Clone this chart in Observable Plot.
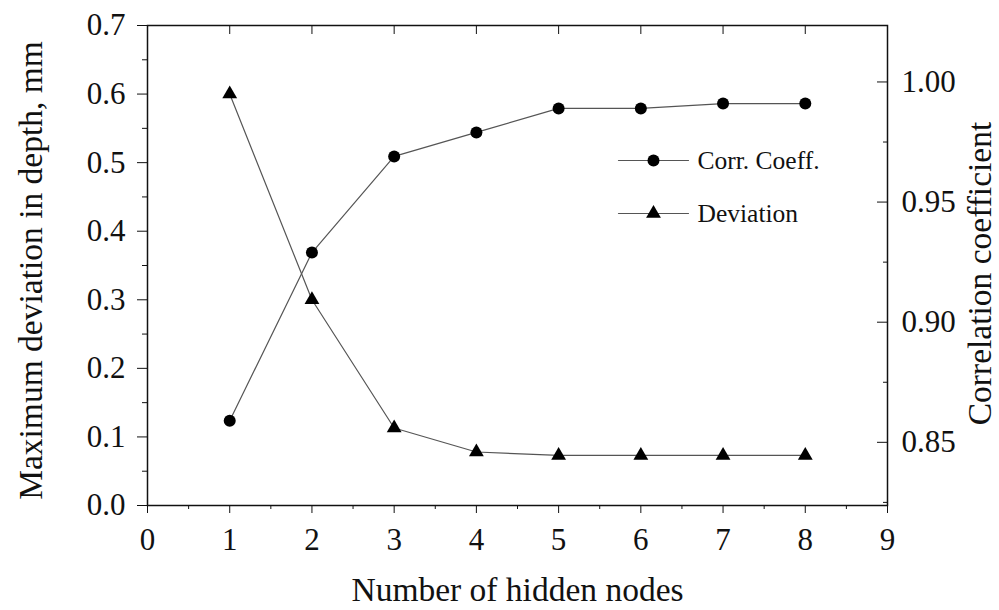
<!DOCTYPE html>
<html><head><meta charset="utf-8">
<script src="https://cdn.jsdelivr.net/npm/d3@7"></script>
<script src="https://cdn.jsdelivr.net/npm/@observablehq/plot@0.6"></script>
<style>body{margin:0;background:#fff}</style>
</head><body><div id="chart"></div>
<script>
// ---- data ----
const nodes = [1, 2, 3, 4, 5, 6, 7, 8];
const deviation = [0.600, 0.300, 0.113, 0.078, 0.073, 0.073, 0.073, 0.073];
const corrCoeff = [0.859, 0.929, 0.969, 0.979, 0.989, 0.989, 0.991, 0.991];
const xTicks = [0, 1, 2, 3, 4, 5, 6, 7, 8, 9];
const xMinorTicks = [0.5, 1.5, 2.5, 3.5, 4.5, 5.5, 6.5, 7.5, 8.5];
const leftTicks = [0.0, 0.1, 0.2, 0.3, 0.4, 0.5, 0.6, 0.7];
const leftMinorTicks = [0.05, 0.15, 0.25, 0.35, 0.45, 0.55, 0.65];
const rightTicks = [0.85, 0.90, 0.95, 1.00];
const rightMinorTicks = [0.825, 0.875, 0.925, 0.975];
const rightDomain = [0.8237, 1.0235];
const leftDomain = [0, 0.7];
const seriesNames = ["Corr. Coeff.", "Deviation"];
const xTitle = "Number of hidden nodes";
const yLeftTitle = "Maximum deviation in depth, mm";
const yRightTitle = "Correlation coefficient";

// ---- layout ----
const W = 999, H = 610;
const mL = 147, mR = 112, mT = 25, mB = 105;
const plotW = W - mL - mR, plotH = H - mT - mB;
const font = "'Liberation Serif', 'Times New Roman', serif";
const ink = "#111";
const lineInk = "#555";

const toLeft = v => (v - rightDomain[0]) / (rightDomain[1] - rightDomain[0]) * (leftDomain[1] - leftDomain[0]) + leftDomain[0];
const fromLeft = v => (v - leftDomain[0]) / (leftDomain[1] - leftDomain[0]) * (rightDomain[1] - rightDomain[0]) + rightDomain[0];

const rows = nodes.map((n, i) => ({n, dev: deviation[i], corr: toLeft(corrCoeff[i])}));

const lineShape = {draw(ctx, l) { ctx.moveTo(0, 0); ctx.lineTo(0, -l); }};

const chart = Plot.plot({
  width: W, height: H,
  marginLeft: mL, marginRight: mR, marginTop: mT, marginBottom: mB,
  style: {fontFamily: font, fontSize: "31px", color: ink, background: "#fff"},
  x: {domain: [0, 9]},
  y: {domain: leftDomain},
  marks: [
    // bottom axis
    Plot.axisX({ticks: xTicks, tickSize: 8, tickPadding: 14, tickFormat: d => String(d), label: null, fontSize: 31, stroke: ink}),
    Plot.axisX({ticks: xMinorTicks, tickSize: 4, tickFormat: () => "", label: null, stroke: ink}),
    // top inward ticks
    Plot.tickX(xTicks.slice(1, -1), {x: d => d, insetBottom: plotH - 9, stroke: ink}),
    // left axis
    Plot.axisY({ticks: leftTicks, tickSize: 10, tickPadding: 12, tickFormat: d => d.toFixed(1), label: null, fontSize: 31, stroke: ink}),
    Plot.axisY({ticks: leftMinorTicks, tickSize: 5, tickFormat: () => "", label: null, stroke: ink}),
    // right axis (correlation)
    Plot.axisY({anchor: "right", ticks: rightTicks.map(toLeft), tickSize: 0, tickPadding: 14, tickFormat: d => fromLeft(d).toFixed(2), label: null, fontSize: 31}),
    Plot.tickY(rightTicks.map(toLeft), {y: d => d, insetLeft: plotW - 10, stroke: ink}),
    Plot.tickY(rightMinorTicks.map(toLeft), {y: d => d, insetLeft: plotW - 4, stroke: ink}),
    Plot.frame({stroke: ink, strokeWidth: 1.5}),
    // series
    Plot.line(rows, {x: "n", y: "dev", stroke: lineInk, strokeWidth: 1.2}),
    Plot.line(rows, {x: "n", y: "corr", stroke: lineInk, strokeWidth: 1.2}),
    Plot.dot(rows, {x: "n", y: "dev", symbol: "triangle", r: 5.5, fill: "#000", stroke: "none"}),
    Plot.dot(rows, {x: "n", y: "corr", symbol: "circle", r: 6, fill: "#000", stroke: "none"}),
    // legend
    Plot.vector([0], {frameAnchor: "top-left", dx: 506, dy: 135, length: 70, rotate: 90, anchor: "middle", shape: lineShape, stroke: lineInk, strokeWidth: 1.2}),
    Plot.dot([0], {frameAnchor: "top-left", dx: 506, dy: 135, r: 6, fill: "#000", stroke: "none"}),
    Plot.text([seriesNames[0]], {frameAnchor: "top-left", dx: 550, dy: 135, text: d => d, textAnchor: "start", lineAnchor: "middle", fontSize: 25.5, fill: ink}),
    Plot.vector([0], {frameAnchor: "top-left", dx: 506, dy: 188, length: 70, rotate: 90, anchor: "middle", shape: lineShape, stroke: lineInk, strokeWidth: 1.2}),
    Plot.dot([0], {frameAnchor: "top-left", dx: 506, dy: 188, r: 5.5, symbol: "triangle", fill: "#000", stroke: "none"}),
    Plot.text([seriesNames[1]], {frameAnchor: "top-left", dx: 550, dy: 188, text: d => d, textAnchor: "start", lineAnchor: "middle", fontSize: 25.5, fill: ink}),
    // axis titles
    Plot.text([xTitle], {frameAnchor: "bottom", dy: 85, text: d => d, textAnchor: "middle", lineAnchor: "middle", fontSize: 33.5, fill: ink}),
    Plot.text([yLeftTitle], {frameAnchor: "left", dx: -116, dy: 5, rotate: -90, text: d => d, textAnchor: "middle", lineAnchor: "middle", fontSize: 33.5, fill: ink}),
    Plot.text([yRightTitle], {frameAnchor: "right", dx: 93, dy: 8, rotate: -90, text: d => d, textAnchor: "middle", lineAnchor: "middle", fontSize: 33.5, fill: ink})
  ]
});
document.getElementById("chart").append(chart);
</script>
</body></html>
